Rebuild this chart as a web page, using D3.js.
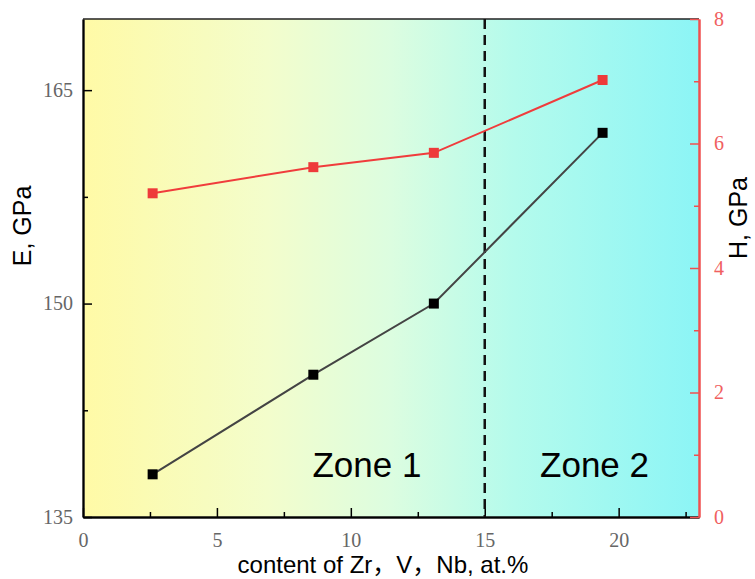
<!DOCTYPE html>
<html>
<head>
<meta charset="utf-8">
<script src="https://cdn.jsdelivr.net/npm/d3@7"></script>
<style>
  body { margin: 0; background: #fff; }
</style>
</head>
<body>
<svg id="chart" width="755" height="579"></svg>
<script>
// data
const content = [2.6, 8.6, 13.1, 19.4];
const modulusE = [138, 145, 150, 162];
const hardnessH = [5.2, 5.62, 5.85, 7.02];
const zoneLabels = ["Zone 1", "Zone 2"];
const zoneBorder = 15;
const xTicks = [0, 5, 10, 15, 20];
const eTicks = [135, 150, 165];
const hTicks = [0, 2, 4, 6, 8];

const margin = { top: 19, right: 56, bottom: 62, left: 83 };
const width = 755 - margin.left - margin.right;
const height = 579 - margin.top - margin.bottom;
const serif = "'Liberation Serif', 'DejaVu Serif', serif";
const sans = "'Liberation Sans', 'Noto Sans CJK SC', Arial, sans-serif";

const svg = d3.select("#chart");
const g = svg.append("g").attr("transform", `translate(${margin.left},${margin.top})`);

const x = d3.scaleLinear().domain([0, 23]).range([0, width]);
const yE = d3.scaleLinear().domain([135, 170]).range([height, 0]);
const yH = d3.scaleLinear().domain([0, 8]).range([height, 0]);

// background gradient
const grad = svg.append("defs").append("linearGradient").attr("id", "bg");
grad.append("stop").attr("offset", "0%").attr("stop-color", "#fffaa6");
grad.append("stop").attr("offset", "30%").attr("stop-color", "#f3fdcc");
grad.append("stop").attr("offset", "50%").attr("stop-color", "#dcfde0");
grad.append("stop").attr("offset", "70%").attr("stop-color", "#b4fbec");
grad.append("stop").attr("offset", "100%").attr("stop-color", "#8cf5f6");

g.append("rect").attr("width", width).attr("height", height).attr("fill", "url(#bg)");

// top frame
g.append("line").attr("x1", 0).attr("x2", width).attr("y1", 0).attr("y2", 0)
  .attr("stroke", "#222").attr("stroke-width", 1.5);

// axes
const xAxis = g.append("g").attr("transform", `translate(0,${height})`)
  .call(d3.axisBottom(x).tickValues(xTicks).tickSizeInner(-9).tickSizeOuter(0).tickPadding(16));
g.append("g").attr("transform", `translate(0,${height})`)
  .call(d3.axisBottom(x).tickValues(d3.range(2.5, 23, 5)).tickSizeInner(-5).tickSizeOuter(0).tickFormat(""));

const eAxis = g.append("g")
  .call(d3.axisLeft(yE).tickValues(eTicks).tickSizeInner(-9).tickSizeOuter(0).tickPadding(10));
g.append("g")
  .call(d3.axisLeft(yE).tickValues([142.5, 157.5]).tickSizeInner(-5).tickSizeOuter(0).tickFormat(""));

const hAxis = g.append("g").attr("transform", `translate(${width},0)`)
  .call(d3.axisRight(yH).tickValues(hTicks).tickSizeInner(-9).tickSizeOuter(0).tickPadding(15));
const hMinor = g.append("g").attr("transform", `translate(${width},0)`)
  .call(d3.axisRight(yH).tickValues([1, 3, 5, 7]).tickSizeInner(-5).tickSizeOuter(0).tickFormat(""));

[xAxis, eAxis, hAxis].forEach(a => {
  a.attr("font-family", null).attr("font-size", null);
  a.selectAll("text").style("font-family", serif).style("font-size", "20px").attr("fill", "#666");
});
hAxis.selectAll("text").attr("fill", "#f06060");

g.selectAll(".domain").attr("stroke-width", 2);
g.selectAll(".tick line").attr("stroke-width", 1.5);
xAxis.select(".domain").attr("stroke", "#222");
eAxis.select(".domain").attr("stroke", "#555");
hAxis.selectAll("line,path").attr("stroke", "#f05050");
hMinor.selectAll("line,path").attr("stroke", "#f05050");

// zone divider
g.append("line").attr("x1", x(zoneBorder)).attr("x2", x(zoneBorder))
  .attr("y1", 0).attr("y2", height)
  .attr("stroke", "#111").attr("stroke-width", 2.5).attr("stroke-dasharray", "10,6");

// series lines
const lineE = d3.line().x((d, i) => x(content[i])).y(d => yE(d));
const lineH = d3.line().x((d, i) => x(content[i])).y(d => yH(d));

g.append("path").datum(modulusE).attr("d", lineE)
  .attr("fill", "none").attr("stroke", "#444").attr("stroke-width", 2);
g.append("path").datum(hardnessH).attr("d", lineH)
  .attr("fill", "none").attr("stroke", "#f03c3c").attr("stroke-width", 2);

const ms = 10;
g.selectAll(".mE").data(modulusE).enter().append("rect")
  .attr("x", (d, i) => x(content[i]) - ms / 2).attr("y", d => yE(d) - ms / 2)
  .attr("width", ms).attr("height", ms).attr("fill", "#000");
g.selectAll(".mH").data(hardnessH).enter().append("rect")
  .attr("x", (d, i) => x(content[i]) - ms / 2).attr("y", d => yH(d) - ms / 2)
  .attr("width", ms).attr("height", ms).attr("fill", "#ee3a3a");

// zone labels
g.append("text").attr("x", x(10.6)).attr("y", yE(137.8)).attr("text-anchor", "middle")
  .style("font-family", sans).style("font-size", "35px")
  .text(zoneLabels[0]);
g.append("text").attr("x", x(19.1)).attr("y", yE(137.8)).attr("text-anchor", "middle")
  .style("font-family", sans).style("font-size", "35px")
  .text(zoneLabels[1]);

// axis titles
svg.append("text").attr("x", margin.left + x(11.2)).attr("y", 573).attr("text-anchor", "middle")
  .style("font-family", sans).style("font-size", "24px")
  .text("content of Zr，V，Nb, at.%");
svg.append("text").attr("transform", "translate(31,226) rotate(-90)").attr("text-anchor", "middle")
  .style("font-family", sans).style("font-size", "25px")
  .text("E, GPa");
svg.append("text").attr("transform", "translate(747,218) rotate(-90)").attr("text-anchor", "middle")
  .style("font-family", sans).style("font-size", "25px")
  .text("H, GPa");
</script>
</body>
</html>
